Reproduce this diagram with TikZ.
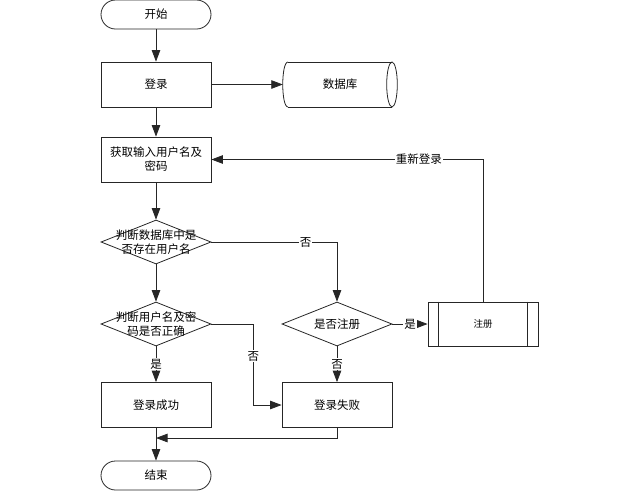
\documentclass[tikz,border=0pt]{standalone}
\usepackage{fontspec}
\newfontfamily\cjk{Noto Sans CJK SC}
\usetikzlibrary{arrows.meta,shapes.geometric}
\begin{document}
\begin{tikzpicture}[x=1pt,y=-1pt,
  every node/.style={font=\cjk\fontsize{11.5}{14}\selectfont, inner sep=0pt},
  lin/.style={draw=black!85, line width=0.8pt},
  term/.style={lin, minimum width=110pt, minimum height=29pt, rounded corners=14.5pt},
  proc/.style={lin, minimum width=110pt, minimum height=45pt, align=center},
  dec/.style={lin, diamond, minimum width=110pt, minimum height=44pt},
  txt/.style={align=center},
  arr/.style={lin, -{Triangle[length=11.5pt,width=8.5pt]}},
  lbl/.style={fill=white, inner sep=1pt}
]
\useasboundingbox (0,0) rectangle (624,496);

\node[term] (start) at (156,14.5) {开始};
\node[proc] (login) at (156,84.5) {登录};
\node[minimum width=114pt, minimum height=45pt] (db) at (340,84.5) {数据库};
\draw[lin] (288,62) -- (392,62);
\draw[lin] (288,107) -- (392,107);
\draw[lin] (288,62) .. controls (281,62) and (281,107) .. (288,107);
\draw[lin] (392,84.5) ellipse [x radius=5.3pt, y radius=22.5pt];

\node[proc] (input) at (156,159.5) {获取输入用户名及\\密码};
\node[dec] (d1) at (156,242) {};
\node[txt] (t1) at (d1) {判断数据库中是\\否存在用户名};
\node[dec] (d2) at (156,324) {};
\node[txt] (t2) at (d2) {判断用户名及密\\码是否正确};
\node[dec] (d3) at (337,324) {};
\node[txt] (t3) at (d3) {是否注册};
\node[proc, minimum height=44pt, font=\cjk\fontsize{9.5}{12}\selectfont] (reg) at (483,324) {注册};
\draw[lin] ([xshift=11pt]reg.north west) -- ([xshift=11pt]reg.south west);
\draw[lin] ([xshift=-11pt]reg.north east) -- ([xshift=-11pt]reg.south east);
\node[proc] (ok) at (156,405) {登录成功};
\node[proc] (fail) at (337,405) {登录失败};
\node[term] (end) at (156,475.5) {结束};
\coordinate (m) at (156,438);

\draw[arr] (start) -- (login);
\draw[arr] (login) -- (db.west);
\draw[arr] (login) -- (input);
\draw[arr] (input) -- (d1);
\draw[arr] (d1) -- (d2);
\draw[arr] (d1.east) -| node[lbl, pos=0.375] {否} (d3.north);
\draw[arr] (d2) -- node[lbl] {是} (ok);
\draw[arr] (d2.east) -- ++(42,0) |- node[lbl, pos=0.2] {否} (fail.west);
\draw[arr] (d3) -- node[lbl] {是} (reg);
\draw[arr] (d3) -- node[lbl] {否} (fail);
\draw[arr] (reg.north) |- node[lbl, pos=0.618] {重新登录} (input.east);
\draw[arr] (fail.south) |- (m);
\draw[arr] (ok) -- (end);
\end{tikzpicture}
\end{document}
